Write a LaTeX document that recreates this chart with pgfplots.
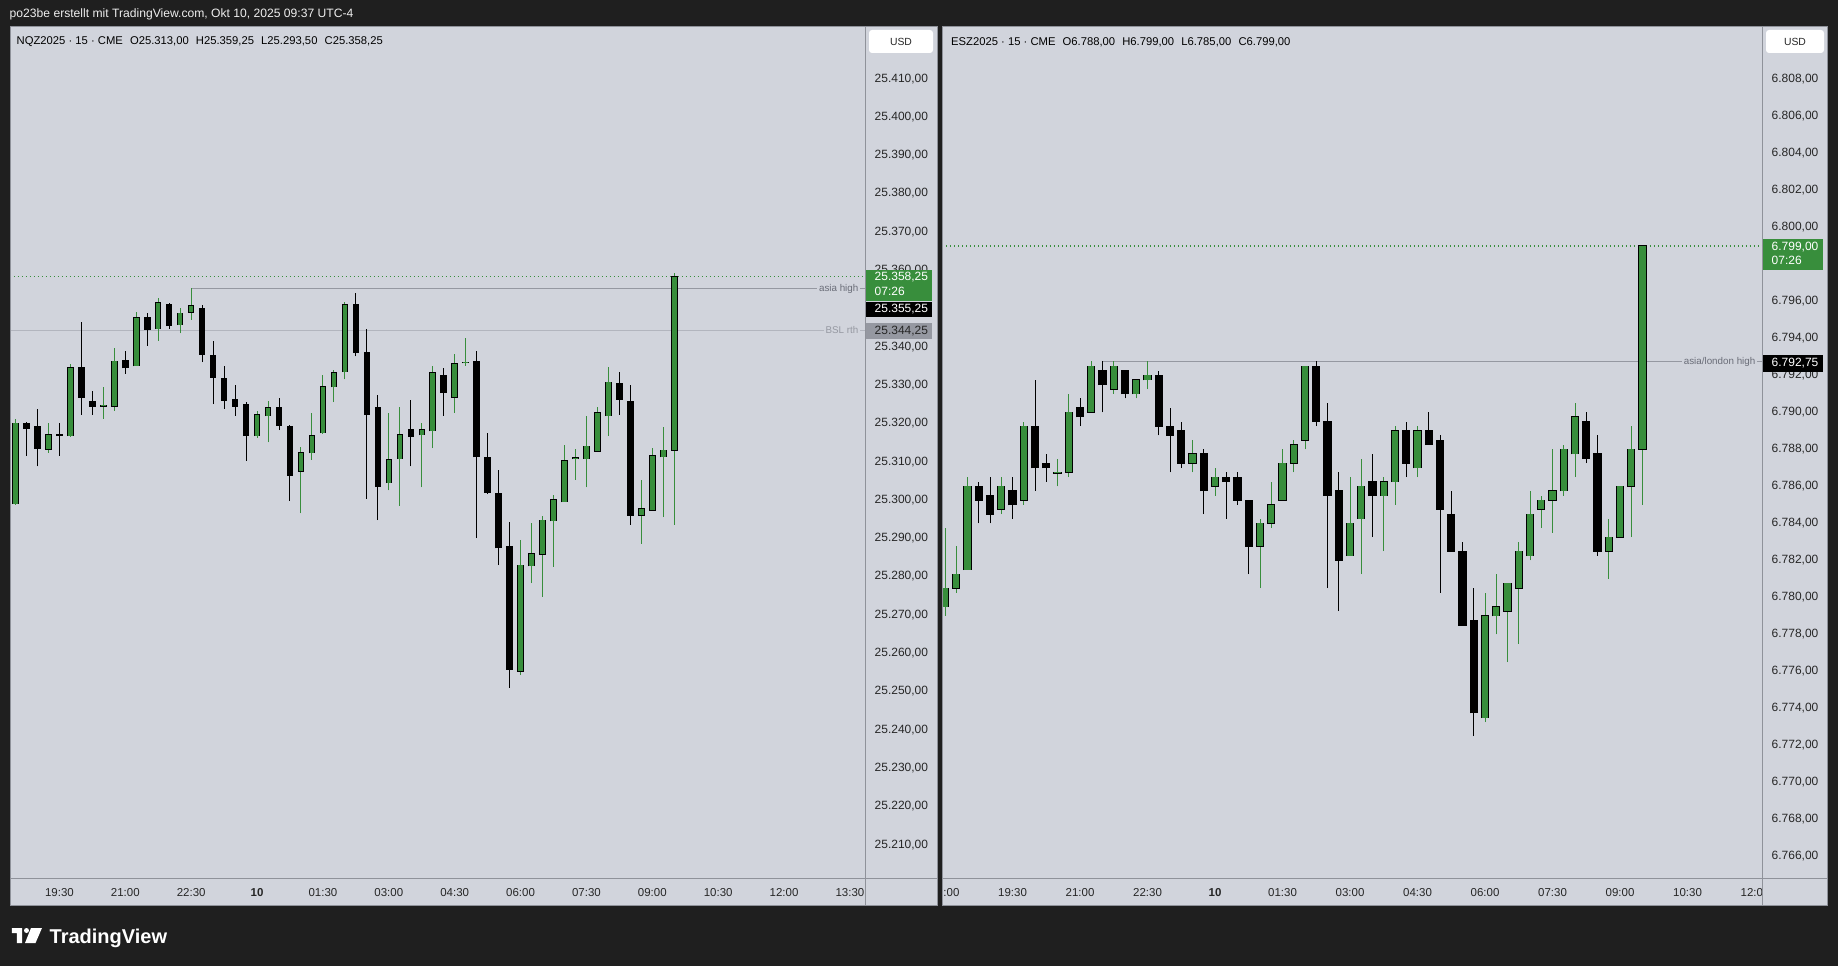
\documentclass[border=0pt]{standalone}
\usepackage{pgfplots}
\pgfplotsset{compat=1.18}
\usepackage{pgfplotstable}
\usepackage{fontspec}
\setmainfont{Liberation Sans}
\definecolor{tvdark}{HTML}{1F1F1F}
\definecolor{panelbg}{HTML}{D1D4DC}
\definecolor{tvgreen}{HTML}{388E3C}
\definecolor{sepgray}{HTML}{8F929A}
\definecolor{asiagray}{HTML}{9598A1}
\definecolor{bslgray}{HTML}{B2B5BE}
\definecolor{labtxt}{HTML}{262626}
\definecolor{notetxt}{HTML}{6A6D78}
\definecolor{bsltxt}{HTML}{9598A1}
\definecolor{hdrtxt}{HTML}{EEEEEE}
\definecolor{boxgray}{HTML}{9598A1}
\newcommand\fsTick{\fontsize{3.41pt}{4.1pt}\selectfont}
\newcommand\fsTime{\fontsize{3.27pt}{3.9pt}\selectfont}
\newcommand\fsHead{\fontsize{3.2pt}{3.8pt}\selectfont}
\newcommand\fsTop{\fontsize{3.45pt}{4.1pt}\selectfont}
\newcommand\fsUSD{\fontsize{2.95pt}{3.5pt}\selectfont}
\newcommand\fsNote{\fontsize{2.79pt}{3.3pt}\selectfont}
\newcommand\fsLogo{\fontsize{5.69pt}{6.8pt}\selectfont}

% NQZ2025 15-min candles, i = bar index (0 = 00:00 Oct 10)
\pgfplotstableread{
i O H L C
-22 25299.00 25321.25 25298.75 25320.00
-19 25313.25 25320.00 25312.25 25317.00
-17 25316.75 25335.50 25316.50 25334.50
-14 25324.50 25329.50 25321.25 25324.75
-13 25324.50 25339.75 25323.25 25336.25
-11 25335.00 25349.00 25335.00 25347.50
-9 25344.75 25352.75 25341.50 25351.50
-7 25345.75 25350.00 25343.50 25348.75
-6 25349.00 25355.25 25347.00 25350.75
0 25316.75 25323.25 25316.25 25322.25
1 25322.00 25325.75 25315.00 25324.00
4 25307.50 25313.75 25296.50 25312.25
5 25312.25 25322.75 25310.50 25316.75
6 25317.50 25332.50 25317.25 25329.50
7 25329.50 25334.00 25325.50 25333.25
8 25333.50 25351.75 25331.50 25351.00
12 25304.50 25322.75 25302.50 25310.50
13 25310.75 25324.25 25298.50 25317.00
15 25317.00 25320.00 25303.25 25318.25
16 25318.00 25335.00 25313.50 25333.25
18 25326.75 25338.00 25322.75 25335.50
19 25335.75 25342.25 25335.00 25336.00
24 25255.25 25289.50 25254.25 25283.00
25 25282.75 25294.00 25278.25 25286.00
26 25285.75 25295.75 25274.75 25294.75
27 25294.50 25301.25 25282.50 25300.00
28 25299.50 25314.25 25299.50 25310.25
29 25310.75 25313.25 25305.25 25311.00
30 25310.75 25322.00 25303.25 25314.00
31 25312.75 25324.25 25312.75 25322.75
32 25322.00 25334.75 25316.75 25330.75
35 25296.00 25305.25 25288.50 25297.75
36 25297.25 25313.50 25297.25 25311.50
37 25311.25 25319.00 25295.50 25313.00
38 25313.00 25359.25 25293.50 25358.25
}\nqG
\pgfplotstableread{
i O H L C
-21 25320.00 25320.25 25311.50 25318.75
-20 25319.25 25323.75 25308.75 25313.50
-18 25317.00 25320.00 25311.50 25316.75
-16 25334.50 25346.50 25322.25 25326.75
-15 25325.75 25328.50 25322.25 25324.50
-12 25336.50 25339.00 25333.00 25334.50
-10 25347.75 25348.75 25340.25 25344.50
-8 25351.00 25351.50 25344.75 25345.50
-5 25350.00 25351.00 25336.00 25338.00
-4 25337.75 25341.50 25325.00 25332.00
-3 25331.75 25335.00 25323.75 25326.00
-2 25326.25 25330.00 25322.00 25324.50
-1 25325.00 25325.50 25310.25 25316.75
2 25324.25 25326.50 25318.25 25319.50
3 25319.25 25319.50 25299.75 25306.50
9 25351.00 25354.00 25337.50 25338.50
10 25338.50 25344.50 25300.25 25322.25
11 25324.25 25327.50 25294.75 25303.50
14 25318.25 25326.00 25308.75 25316.50
17 25332.50 25334.50 25322.00 25328.00
20 25336.25 25339.00 25290.00 25311.25
21 25311.00 25317.50 25301.50 25302.00
22 25301.75 25307.75 25283.00 25287.50
23 25287.75 25294.25 25251.00 25255.75
33 25330.50 25333.50 25322.25 25326.25
34 25325.75 25330.00 25293.50 25296.00
}\nqB
% ESZ2025 15-min candles
\pgfplotstableread{
i O H L C
-24 6779.50 6783.75 6779.00 6780.50
-23 6780.50 6782.75 6780.25 6781.25
-22 6781.50 6786.50 6781.50 6786.00
-19 6784.75 6786.50 6784.50 6786.00
-17 6785.25 6789.50 6785.00 6789.25
-14 6786.70 6787.50 6786.00 6786.75
-13 6786.75 6791.00 6786.50 6790.00
-11 6790.00 6792.75 6790.00 6792.50
-9 6791.25 6792.75 6791.00 6792.50
-7 6791.00 6791.75 6790.75 6791.75
-6 6791.75 6792.75 6791.25 6792.00
-2 6787.25 6788.50 6786.75 6787.75
0 6786.00 6787.00 6785.50 6786.50
4 6782.75 6784.25 6780.50 6784.00
5 6784.00 6786.25 6783.75 6785.00
6 6785.25 6788.00 6785.25 6787.25
7 6787.25 6788.50 6786.75 6788.25
8 6788.50 6792.50 6788.00 6792.50
12 6782.25 6786.50 6782.25 6784.00
13 6784.25 6787.50 6781.25 6786.00
15 6785.50 6786.50 6782.50 6786.25
16 6786.25 6789.25 6785.00 6789.00
18 6787.00 6789.25 6786.50 6789.00
24 6773.50 6780.25 6773.25 6779.00
25 6779.00 6781.25 6778.00 6779.50
26 6779.25 6780.75 6776.50 6780.75
27 6780.50 6783.00 6777.50 6782.50
28 6782.25 6785.75 6782.00 6784.50
29 6784.75 6785.50 6783.75 6785.25
30 6785.25 6788.00 6783.50 6785.75
31 6785.75 6788.25 6785.50 6788.00
32 6787.75 6790.50 6786.50 6789.75
35 6782.50 6784.25 6781.00 6783.25
36 6783.25 6786.00 6783.25 6786.00
37 6786.00 6789.25 6783.25 6788.00
38 6788.00 6799.00 6785.00 6799.00
}\esG
\pgfplotstableread{
i O H L C
-21 6786.00 6786.25 6784.00 6785.25
-20 6785.50 6786.50 6784.00 6784.50
-18 6785.75 6786.50 6784.25 6785.00
-16 6789.25 6791.75 6785.75 6787.00
-15 6787.25 6787.75 6786.25 6787.00
-12 6790.25 6790.75 6789.25 6789.75
-10 6792.25 6792.75 6790.00 6791.50
-8 6792.25 6792.25 6790.75 6791.00
-5 6792.00 6792.25 6788.75 6789.25
-4 6789.25 6790.25 6786.75 6788.75
-3 6789.00 6789.50 6787.00 6787.25
-1 6787.75 6788.00 6784.50 6785.75
1 6786.50 6786.75 6784.25 6786.25
2 6786.50 6786.75 6785.00 6785.25
3 6785.25 6785.25 6781.25 6782.75
9 6792.50 6792.75 6789.25 6789.50
10 6789.50 6790.50 6780.50 6785.50
11 6785.75 6786.75 6779.25 6782.00
14 6786.25 6787.75 6783.25 6785.50
17 6789.00 6789.50 6786.50 6787.25
19 6789.00 6790.00 6788.25 6788.25
20 6788.50 6788.75 6780.25 6784.75
21 6784.50 6785.75 6782.50 6782.50
22 6782.50 6783.00 6778.50 6778.50
23 6778.75 6780.50 6772.50 6773.75
33 6789.50 6790.00 6787.25 6787.50
34 6787.75 6788.75 6782.25 6782.50
}\esB

\newcommand\candles[4]{%
\addplot[draw=none, mark=none, error bars/.cd, y dir=plus, y explicit, error mark=none,
  error bar style={draw=tvgreen, line width=0.01cm}]
  table[x=i, y=L, y error plus expr=\thisrow{H}-\thisrow{L}] {#1};
\addplot[draw=none, mark=none, error bars/.cd, y dir=plus, y explicit, error mark=none,
  error bar style={draw=black, line width=0.01cm}]
  table[x=i, y=L, y error plus expr=\thisrow{H}-\thisrow{L}] {#2};
\addplot[draw=none, mark=none, error bars/.cd, y dir=plus, y explicit, error mark=none,
  error bar style={draw=black, line width=#3, shorten <=-0.005cm, shorten >=-0.005cm}]
  table[x=i, y=C, y error plus expr=\thisrow{O}-\thisrow{C}] {#2};
\addplot[draw=none, mark=none, error bars/.cd, y dir=plus, y explicit, error mark=none,
  error bar style={draw=black, line width=#3, shorten <=-0.005cm, shorten >=-0.005cm}]
  table[x=i, y=O, y error plus expr=\thisrow{C}-\thisrow{O}] {#1};
\addplot[draw=none, mark=none, error bars/.cd, y dir=plus, y explicit, error mark=none,
  error bar style={draw=tvgreen, line width=#4}]
  table[x=i, y=O, y error plus expr=\thisrow{C}-\thisrow{O}] {#1};
}

\pgfplotsset{tvaxis/.style={
  anchor=south west, scale only axis,
  axis line style={draw=none}, major tick length=0pt,
  every tick/.style={draw=none},
  scaled y ticks=false, yticklabel pos=right,
  yticklabel style={anchor=west, inner sep=0pt, font=\fsTick, text=labtxt},
  yticklabel shift=0.09cm,
  xticklabel style={anchor=north, inner sep=0pt, font=\fsTime, text=labtxt},
  xticklabel shift=0.10cm,
}}

\begin{document}
\begin{tikzpicture}[x=1cm,y=1cm]
\fill[tvdark] (0,0) rectangle (18.38,9.66);
\useasboundingbox (0,0) rectangle (18.38,9.66);
\fill[panelbg] (0.10,0.61) rectangle (9.37,9.39);
\fill[panelbg] (9.42,0.61) rectangle (18.27,9.39);

\begin{scope}
\clip (0.10,0.61) rectangle (9.37,9.39);
\begin{scope}[shift={(0.10,0.88)}]
\begin{axis}[tvaxis, width=8.55cm, height=8.51cm,
  y filter/.expression={y-25300},
  xmin=-22.5, xmax=55.37, ymin=-98.72, ymax=123.47,
  xtick={-18,-12,-6,0,6,12,18,24,30,36,42,48,54},
  xticklabels={19:30,21:00,22:30,\textbf{10},01:30,03:00,04:30,06:00,07:30,09:00,10:30,12:00,13:30},
  ytick={-90,-80,-70,-60,-50,-40,-30,-20,-10,0,10,20,30,40,60,70,80,90,100,110},
  yticklabels={{25.210,00},{25.220,00},{25.230,00},{25.240,00},{25.250,00},{25.260,00},{25.270,00},{25.280,00},{25.290,00},{25.300,00},{25.310,00},{25.320,00},{25.330,00},{25.340,00},{25.360,00},{25.370,00},{25.380,00},{25.390,00},{25.400,00},{25.410,00}}]
\addplot[draw=bslgray, line width=0.01cm] coordinates {(-22.5,25344.25) (55.37,25344.25)};
\addplot[draw=asiagray, line width=0.01cm] coordinates {(-6,25355.25) (55.37,25355.25)};
\addplot[draw=tvgreen, line width=0.013cm, dash pattern=on 0.013cm off 0.027cm] coordinates {(-22.5,25358.25) (55.37,25358.25)};
\candles{\nqG}{\nqB}{0.065cm}{0.045cm}
\end{axis}
\end{scope}
\end{scope}

\begin{scope}
\clip (9.42,0.61) rectangle (18.27,9.39);
\begin{scope}[shift={(9.42,0.88)}]
\begin{axis}[tvaxis, width=8.20cm, height=8.51cm,
  y filter/.expression={y-6780},
  xmin=-24.27, xmax=48.62, ymin=-15.17, ymax=30.83,
  xtick={-24,-18,-12,-6,0,6,12,18,24,30,36,42,48},
  xticklabels={18:00,19:30,21:00,22:30,\textbf{10},01:30,03:00,04:30,06:00,07:30,09:00,10:30,12:00},
  ytick={-14,-12,-10,-8,-6,-4,-2,0,2,4,6,8,10,12,14,16,20,22,24,26,28},
  yticklabels={{6.766,00},{6.768,00},{6.770,00},{6.772,00},{6.774,00},{6.776,00},{6.778,00},{6.780,00},{6.782,00},{6.784,00},{6.786,00},{6.788,00},{6.790,00},{6.792,00},{6.794,00},{6.796,00},{6.800,00},{6.802,00},{6.804,00},{6.806,00},{6.808,00}}]
\addplot[draw=asiagray, line width=0.01cm] coordinates {(-10,6792.75) (48.62,6792.75)};
\addplot[draw=tvgreen, line width=0.013cm, dash pattern=on 0.013cm off 0.027cm] coordinates {(-24.27,6799) (48.62,6799)};
\candles{\esG}{\esB}{0.082cm}{0.062cm}
\end{axis}
\end{scope}
\end{scope}

% corner below right price scale (clips 12:00)
\fill[panelbg] (17.625,0.615) rectangle (18.265,0.875);

% separators and borders
\begin{scope}[line width=0.01cm, draw=sepgray]
\draw (0.10,0.61) rectangle (9.37,9.39);
\draw (9.42,0.61) rectangle (18.27,9.39);
\draw (8.65,0.61) -- (8.65,9.39);
\draw (0.10,0.88) -- (9.37,0.88);
\draw (17.62,0.61) -- (17.62,9.39);
\draw (9.42,0.88) -- (18.27,0.88);
\end{scope}

% headers
\node[anchor=west, inner sep=0pt, text=hdrtxt, font=\fsTop] at (0.09,9.52) {po23be erstellt mit TradingView.com, Okt 10, 2025 09:37 UTC-4};
\node[anchor=west, inner sep=0pt, text=black, font=\fsHead] at (0.16,9.24) {NQZ2025 · 15 · CME\hspace{0.04cm} O25.313,00\hspace{0.04cm} H25.359,25\hspace{0.04cm} L25.293,50\hspace{0.04cm} C25.358,25};
\node[anchor=west, inner sep=0pt, text=black, font=\fsHead] at (9.505,9.24) {ESZ2025 · 15 · CME\hspace{0.04cm} O6.788,00\hspace{0.04cm} H6.799,00\hspace{0.04cm} L6.785,00\hspace{0.04cm} C6.799,00};

% USD boxes
\fill[white, rounded corners=0.03cm] (8.69,9.13) rectangle (9.33,9.36);
\node[text=labtxt, font=\fsUSD, inner sep=0pt] at (9.01,9.245) {USD};
\fill[white, rounded corners=0.03cm] (17.66,9.13) rectangle (18.24,9.36);
\node[text=labtxt, font=\fsUSD, inner sep=0pt] at (17.95,9.245) {USD};

% line labels
\node[anchor=east, fill=panelbg, inner xsep=0.02cm, inner ysep=0.01cm, text=notetxt, font=\fsNote] at (8.61,6.772) {asia high};
\node[anchor=east, fill=panelbg, inner xsep=0.02cm, inner ysep=0.01cm, text=bsltxt, font=\fsNote] at (8.61,6.357) {BSL rth};
\node[anchor=east, fill=panelbg, inner xsep=0.02cm, inner ysep=0.01cm, text=notetxt, font=\fsNote] at (17.58,6.04) {asia/london high};

% price boxes left
\fill[tvgreen] (8.66,6.653) rectangle (9.32,6.96);
\node[anchor=west, inner sep=0pt, text=white, font=\fsTick] at (8.74,6.888) {25.358,25};
\node[anchor=west, inner sep=0pt, text=white, font=\fsTick] at (8.74,6.745) {07:26};
\fill[black] (8.66,6.487) rectangle (9.32,6.643);
\node[anchor=west, inner sep=0pt, text=white, font=\fsTick] at (8.74,6.565) {25.355,25};
\fill[boxgray] (8.66,6.267) rectangle (9.32,6.43);
\node[anchor=west, inner sep=0pt, text=labtxt, font=\fsTick] at (8.74,6.35) {25.344,25};

% price boxes right
\fill[tvgreen] (17.627,6.963) rectangle (18.227,7.27);
\node[anchor=west, inner sep=0pt, text=white, font=\fsTick] at (17.71,7.193) {6.799,00};
\node[anchor=west, inner sep=0pt, text=white, font=\fsTick] at (17.71,7.053) {07:26};
\fill[black] (17.627,5.943) rectangle (18.227,6.11);
\node[anchor=west, inner sep=0pt, text=white, font=\fsTick] at (17.71,6.027) {6.792,75};

% logo
\fill[white] (0.12,0.38) -- (0.22,0.38) -- (0.22,0.23) -- (0.17,0.23) -- (0.17,0.33) -- (0.12,0.33) -- cycle;
\fill[white] (0.265,0.355) circle (0.025);
\fill[white] (0.31,0.38) -- (0.42,0.38) -- (0.355,0.23) -- (0.25,0.23) -- cycle;
\node[anchor=base west, inner sep=0pt, text=white, font=\fsLogo\bfseries] at (0.49,0.23) {TradingView};
\end{tikzpicture}
\end{document}
